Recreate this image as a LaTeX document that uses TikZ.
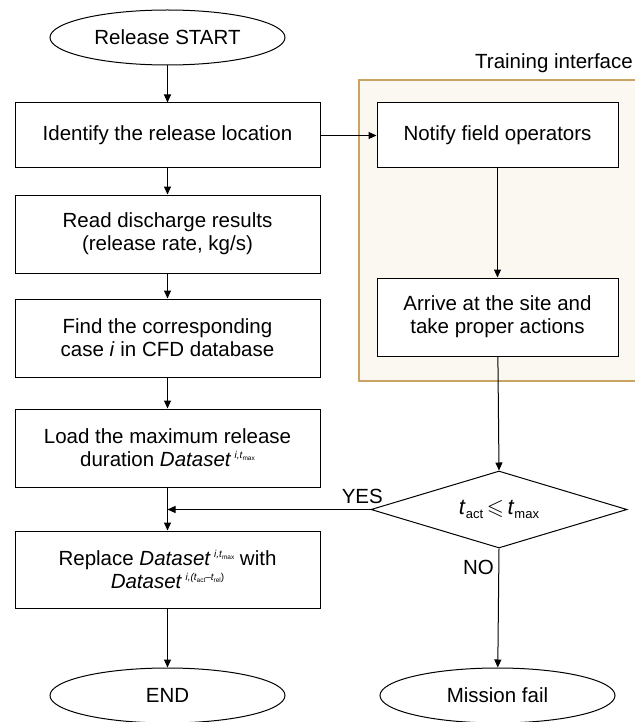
\documentclass[tikz,border=0pt]{standalone}
\usepackage{fontspec}
\usepackage{amssymb}
\setmainfont{Liberation Sans}
\usetikzlibrary{shapes.geometric,arrows.meta}
\definecolor{tiborder}{HTML}{C9A464}
\definecolor{tifill}{HTML}{FBF8F2}
\newcommand{\dsmax}{\textit{Dataset}\,\raisebox{0.75ex}{\fontsize{10}{10}\selectfont\itshape i,t\raisebox{-0.35ex}{\fontsize{6.5}{6.5}\selectfont\upshape max}}}
\newcommand{\dsact}{\textit{Dataset}\,\raisebox{0.75ex}{\fontsize{10}{10}\selectfont\itshape i,(t\raisebox{-0.35ex}{\fontsize{6.5}{6.5}\selectfont\upshape act}--t\raisebox{-0.35ex}{\fontsize{6.5}{6.5}\selectfont\upshape rel}\upshape)}}
\begin{document}
\begin{tikzpicture}[x=1pt,y=-1pt,
  every node/.style={font=\fontsize{20.5}{23}\selectfont},
  procbox/.style={draw=black,line width=1pt,fill=white,rectangle,align=center,inner sep=2pt},
  termnode/.style={draw=black,line width=1pt,fill=white,ellipse,minimum width=235pt,minimum height=55pt,inner sep=0pt},
  decnode/.style={draw=black,line width=1pt,fill=white,diamond,minimum width=256pt,minimum height=77pt,inner sep=0pt,aspect=3.3},
  conn/.style={line width=1pt,-{Triangle[length=8pt,width=7pt]}},
  plainline/.style={line width=1pt}]
\useasboundingbox (0,0) rectangle (634,722);
\fill[white] (0,0) rectangle (634,722);
% training interface region
\draw[draw=tiborder,fill=tifill,line width=1.2pt] (359,80) rectangle (640,381);
\node[anchor=east,inner sep=0pt,font=\fontsize{20.5}{23}\selectfont] (tlabel) at (633,63) {Training interface};
% left column
\node[termnode] (start) at (167.5,37.5) {Release START};
\node[procbox,minimum width=305pt,minimum height=65pt] (b1) at (167.5,135.5) {Identify the release location};
\node[procbox,minimum width=305pt,minimum height=78pt] (b2) at (167.5,234) {Read discharge results\\(release rate, kg/s)};
\node[procbox,minimum width=305pt,minimum height=78pt] (b3) at (167.5,338) {Find the corresponding\\case \textit{i} in CFD database};
\node[procbox,minimum width=305pt,minimum height=78pt] (b4) at (167.5,448) {Load the maximum release\\duration \dsmax};
\node[procbox,minimum width=305pt,minimum height=77pt] (b5) at (167.5,569.5) {Replace \dsmax{} with\\\dsact};
\node[termnode] (endn) at (167.5,695.5) {END};
% right column
\node[procbox,minimum width=241pt,minimum height=65pt] (n1) at (497.5,135.5) {Notify field operators};
\node[procbox,minimum width=241pt,minimum height=78pt] (n2) at (497.5,317) {Arrive at the site and\\take proper actions};
\node[decnode] (dec) at (499,509.5) {\fontsize{22}{22}\selectfont\textit{t}\raisebox{-0.35ex}{\fontsize{13}{13}\selectfont act}\,$\leqslant$\,\textit{t}\raisebox{-0.35ex}{\fontsize{13}{13}\selectfont max}};
\node[termnode] (fail) at (497.5,695.5) {Mission fail};
\coordinate (join) at (167.5,509.5);
% connectors
\draw[conn] (start) -- (b1);
\draw[conn] (b1) -- (b2);
\draw[conn] (b2) -- (b3);
\draw[conn] (b3) -- (b4);
\draw[conn] (b4) -- (b5);
\draw[conn] (b5) -- (endn);
\draw[conn] (b1.east) -- (n1.west);
\draw[conn] (n1) -- (n2);
\draw[conn] (n2) -- (dec.north);
\draw[conn] (dec.south) -- (fail);
\draw[conn] (dec.west) -- (join);
\node[anchor=south east,inner sep=1pt] (yes) at (384,505) {YES};
\node[anchor=east,inner sep=1pt] (no) at (495,567) {NO};
\end{tikzpicture}
\end{document}
